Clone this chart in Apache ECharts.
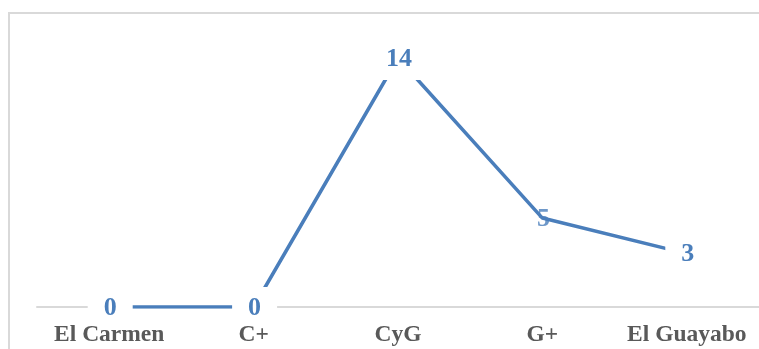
<!DOCTYPE html>
<html>
<head>
<meta charset="utf-8">
<script src="https://cdn.jsdelivr.net/npm/echarts@6/dist/echarts.min.js"></script>
<style>
  html, body { margin: 0; padding: 0; background: #fff; }
  #chart { width: 759px; height: 349px; }
</style>
</head>
<body>
<div id="chart"></div>
<script>
// Sites along the transect and the count recorded at each
const categories = ['El Carmen', 'C+', 'CyG', 'G+', 'El Guayabo'];
const counts = [0, 0, 14, 5, 3];

// Index whose label sits beneath the line instead of masking it
const underLabelIndex = 3;

const lineColor = '#4a7ebb';
const serif = '"Liberation Serif", "Times New Roman", serif';
const labelFont = {
  fontFamily: serif,
  fontWeight: 'bold',
  fontSize: 26,
  lineHeight: 28,
  color: '#4a7ebb',
  offset: [1, 1]
};

const lineData = counts.map((v, i) =>
  i === underLabelIndex ? { value: v, label: { show: false } } : v
);
const underData = counts.map((v, i) => (i === underLabelIndex ? v : '-'));

const chart = echarts.init(document.getElementById('chart'), null, { renderer: 'canvas' });
chart.setOption({
  backgroundColor: '#ffffff',
  animation: false,
  graphic: [{
    type: 'rect',
    silent: true,
    z: -1,
    shape: { x: 9, y: 13, width: 800, height: 400 },
    style: { fill: 'none', stroke: '#d9d9d9', lineWidth: 2 }
  }],
  grid: { left: 37, right: 0, top: 58, bottom: 42 },
  xAxis: [
    {
      // baseline: drawn under the series so value labels mask it
      type: 'category',
      data: categories,
      boundaryGap: true,
      z: 0,
      axisLine: { show: true, lineStyle: { color: '#d9d9d9', width: 2 } },
      axisTick: { show: false },
      axisLabel: { show: false }
    },
    {
      // category names: drawn above everything
      type: 'category',
      data: categories,
      boundaryGap: true,
      position: 'bottom',
      z: 10,
      axisLine: { show: false },
      axisTick: { show: false },
      axisLabel: {
        interval: 0,
        margin: 16,
        fontFamily: serif,
        fontWeight: 'bold',
        fontSize: 23.5,
        color: '#595959'
      }
    }
  ],
  yAxis: {
    type: 'value',
    min: 0,
    max: 14,
    show: false,
    splitLine: { show: false }
  },
  series: [
    {
      type: 'scatter',
      z: 1,
      xAxisIndex: 0,
      data: underData,
      symbolSize: 2,
      itemStyle: { color: 'rgba(0,0,0,0)' },
      label: Object.assign({ show: true, position: 'inside', formatter: '{c}' }, labelFont)
    },
    {
      type: 'line',
      z: 3,
      xAxisIndex: 0,
      data: lineData,
      symbol: 'circle',
      symbolSize: 2,
      showSymbol: true,
      itemStyle: { color: 'rgba(0,0,0,0)' },
      lineStyle: { color: lineColor, width: 3.5 },
      label: Object.assign({
        show: true,
        position: 'inside',
        backgroundColor: '#ffffff',
        padding: [7, 16, 7, 16]
      }, labelFont)
    }
  ]
});
</script>
</body>
</html>
